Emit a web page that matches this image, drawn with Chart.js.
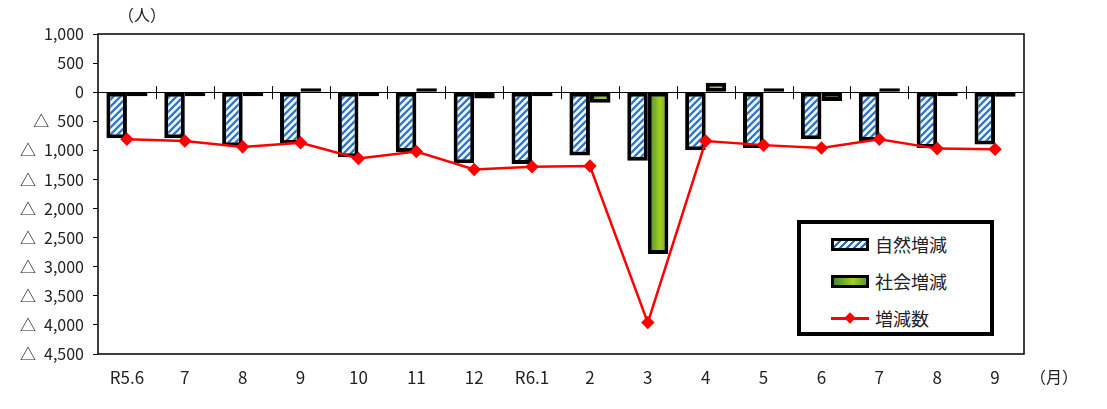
<!DOCTYPE html>
<html lang="ja">
<head>
<meta charset="utf-8">
<script src="https://cdn.jsdelivr.net/npm/chart.js@4"></script>
<style>
  body { margin: 0; background: #fff; }
  #wrap { position: relative; width: 1107px; height: 409px; }
  .unit { position: absolute; font-family: "Noto Sans CJK JP", sans-serif; font-size: 16px; color: #222; }
  #legend { position: absolute; left: 797px; top: 220px; width: 189px; height: 108px;
    border: 4px solid #000; background: #fff; font-family: "Noto Sans CJK JP", sans-serif; font-size: 18px; color: #222; }
  .item { position: absolute; left: 30px; height: 24px; display: flex; align-items: center; }
  .sw { width: 32px; height: 7px; border: 3px solid #000; margin-right: 6px; }
  .sw.nat { background: repeating-linear-gradient(135deg, #e8f6ff 0 3px, #2a6fc4 3px 5px); }
  .sw.soc { background: linear-gradient(90deg, #3f8a3a, #a4cf1c 60%, #5c9a30); }
  .ln { width: 38px; height: 3px; background: #f00; margin-right: 6px; position: relative; }
  .ln::after { content: ""; position: absolute; left: 15px; top: -3px; width: 8px; height: 8px; background: #f00; transform: rotate(45deg); }
</style>
</head>
<body>
<div id="wrap">
  <canvas id="popChart" width="1107" height="409"></canvas>
  <div class="unit" style="left:118px; top:2px;">（人）</div>
  <div class="unit" style="left:1030px; top:364px;">（月）</div>
  <div id="legend">
    <div class="item" style="top:8px;"><span class="sw nat"></span>自然増減</div>
    <div class="item" style="top:45px;"><span class="sw soc"></span>社会増減</div>
    <div class="item" style="top:82px;"><span class="ln"></span>増減数</div>
  </div>
</div>
<script>
// 月ラベル
const months = ['R5.6', '7', '8', '9', '10', '11', '12', 'R6.1', '2', '3', '4', '5', '6', '7', '8', '9'];
// 自然増減（人）
const naturalChange = [-790, -790, -930, -890, -1120, -1030, -1220, -1235, -1090, -1180, -1000, -960, -810, -840, -960, -900];
// 社会増減（人）
const socialChange = [-20, -50, -10, 20, -20, 10, -110, -45, -180, -2780, 160, 50, -150, 30, -10, -80];
// 増減数（人）
const totalChange = [-810, -840, -940, -870, -1140, -1020, -1330, -1280, -1270, -3960, -840, -910, -960, -810, -970, -980];

const yMin = -4500, yMax = 1000, yStep = 500;

// 斜線パターン
function makeStripe() {
    const c = document.createElement('canvas');
    c.width = 7; c.height = 7;
    const g = c.getContext('2d');
    g.fillStyle = '#eaf6ff';
    g.fillRect(0, 0, 7, 7);
    g.strokeStyle = '#2a6fc4';
    g.lineWidth = 2.2;
    g.beginPath();
    g.moveTo(-1, 8); g.lineTo(8, -1);
    g.moveTo(-1, 1); g.lineTo(1, -1);
    g.moveTo(6, 8); g.lineTo(8, 6);
    g.stroke();
    return g.createPattern(c, 'repeat');
}

const ctx = document.getElementById('popChart').getContext('2d');
const stripe = makeStripe();

// 社会増減の横グラデーション（棒ごと）
function greenFill(c) {
    const chart = c.chart;
    const x = chart.scales.x;
    if (!x || !chart.chartArea) return '#8cc21e';
    const center = x.getPixelForValue(c.dataIndex);
    const w = (chart.chartArea.right - chart.chartArea.left) / months.length * 0.71 / 2;
    const g = chart.ctx.createLinearGradient(center, 0, center + w, 0);
    g.addColorStop(0, '#3f8a3a');
    g.addColorStop(0.6, '#a4cf1c');
    g.addColorStop(1, '#5c9a30');
    return g;
}

// 枠線と0軸の目盛り
const framePlugin = {
    id: 'frame',
    afterDatasetsDraw(chart) {
        const { ctx, chartArea: a, scales } = chart;
        const y0 = scales.y.getPixelForValue(0);
        const step = (a.right - a.left) / months.length;
        ctx.save();
        ctx.strokeStyle = '#000';
        ctx.lineWidth = 1;
        ctx.beginPath();
        for (let i = 1; i < months.length; i++) {
            const px = Math.round(a.left + i * step) + 0.5;
            ctx.moveTo(px, y0 - 6);
            ctx.lineTo(px, y0 + 7);
        }
        ctx.stroke();
        ctx.lineWidth = 1.5;
        ctx.strokeRect(a.left, a.top, a.right - a.left, a.bottom - a.top);
        ctx.restore();
    }
};

new Chart(ctx, {
    data: {
        labels: months,
        datasets: [{
            type: 'line',
            label: '増減数',
            data: totalChange,
            borderColor: '#ff0000',
            backgroundColor: '#ff0000',
            borderWidth: 2.5,
            pointStyle: 'rectRot',
            pointRadius: 5,
            tension: 0,
            order: 0
        }, {
            type: 'bar',
            label: '自然増減',
            data: naturalChange,
            backgroundColor: stripe,
            borderColor: '#000',
            borderWidth: 4,
            borderSkipped: false,
            categoryPercentage: 0.71,
            barPercentage: 1.0,
            order: 1
        }, {
            type: 'bar',
            label: '社会増減',
            data: socialChange,
            backgroundColor: greenFill,
            borderColor: '#000',
            borderWidth: 4,
            borderSkipped: false,
            minBarLength: 4,
            categoryPercentage: 0.71,
            barPercentage: 1.0,
            order: 1
        }]
    },
    options: {
        responsive: false,
        animation: false,
        layout: { padding: { left: 0, right: 83, top: 34, bottom: 0 } },
        plugins: { legend: { display: false }, tooltip: { enabled: false } },
        scales: {
            x: {
                grid: { display: false, drawTicks: false },
                border: { display: false },
                ticks: {
                    padding: 13,
                    color: '#222',
                    font: { family: '"Noto Sans CJK JP", sans-serif', size: 17 },
                    maxRotation: 0, autoSkip: false
                },
                afterFit(s) { s.height = 55; }
            },
            y: {
                min: yMin,
                max: yMax,
                grid: {
                    color: c => (c.tick && c.tick.value === 0 ? '#000' : 'transparent'),
                    tickColor: '#000',
                    tickLength: 5,
                    lineWidth: 1
                },
                border: { display: false },
                ticks: {
                    stepSize: yStep,
                    padding: 9,
                    color: '#222',
                    font: { family: '"Noto Sans CJK JP", sans-serif', size: 16 },
                    callback: v => (v < 0 ? '△\u2002' + Math.abs(v).toLocaleString('en-US') : v.toLocaleString('en-US'))
                },
                afterFit(s) { s.width = 98; }
            }
        }
    },
    plugins: [framePlugin]
});
</script>
</body>
</html>
